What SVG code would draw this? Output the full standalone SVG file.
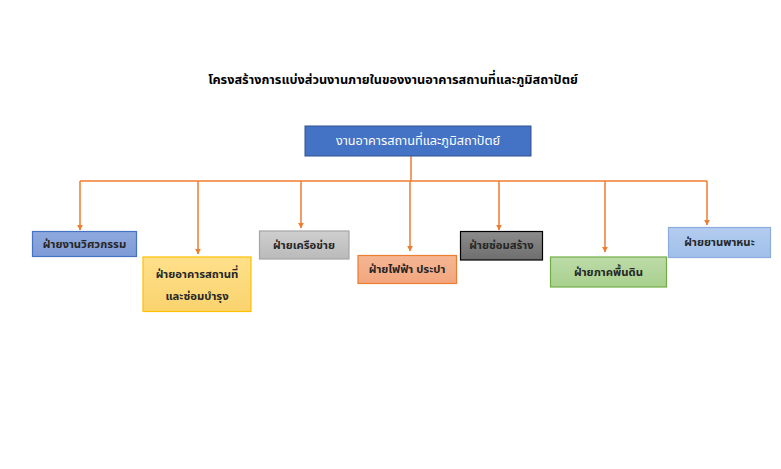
<svg xmlns="http://www.w3.org/2000/svg" width="781" height="469" viewBox="0 0 781 469">
<style>
text{font-family:"Noto Sans Thai","Leelawadee UI","Tahoma","Noto Sans","DejaVu Sans",sans-serif;text-anchor:middle;dominant-baseline:central}
.t{font-size:12.7px;font-weight:bold;fill:#000}
.n{font-size:11.3px;font-weight:bold;fill:#262626}
.top{font-size:12.7px;fill:#fff}
.c{fill:none;stroke:#ED7D31;stroke-width:1.5}
</style>
<defs>
<marker id="a" viewBox="0 0 10 10" refX="9" refY="5" markerWidth="4" markerHeight="4" orient="auto"><path d="M0,0L10,5L0,10z" fill="#ED7D31"/></marker>
<linearGradient id="gb" x1="0" y1="0" x2="0" y2="1"><stop offset="0" stop-color="#8FA9DE"/><stop offset="1" stop-color="#7F9BD6"/></linearGradient>
<linearGradient id="gy" x1="0" y1="0" x2="0" y2="1"><stop offset="0" stop-color="#FFE08A"/><stop offset="1" stop-color="#FAD36E"/></linearGradient>
<linearGradient id="gg" x1="0" y1="0" x2="0" y2="1"><stop offset="0" stop-color="#CFCFCF"/><stop offset="1" stop-color="#BABABA"/></linearGradient>
<linearGradient id="go" x1="0" y1="0" x2="0" y2="1"><stop offset="0" stop-color="#F5B694"/><stop offset="1" stop-color="#F2A67E"/></linearGradient>
<linearGradient id="gd" x1="0" y1="0" x2="0" y2="1"><stop offset="0" stop-color="#8C8C8C"/><stop offset="1" stop-color="#6E6E6E"/></linearGradient>
<linearGradient id="gn" x1="0" y1="0" x2="0" y2="1"><stop offset="0" stop-color="#BDDBA9"/><stop offset="1" stop-color="#A8D08D"/></linearGradient>
<linearGradient id="gl" x1="0" y1="0" x2="0" y2="1"><stop offset="0" stop-color="#B4CDF0"/><stop offset="1" stop-color="#A0BFEA"/></linearGradient>
</defs>
<rect width="781" height="469" fill="#fff"/>
<text class="t" x="393" y="80">โครงสร้างการแบ่งส่วนงานภายในของงานอาคารสถานที่และภูมิสถาปัตย์</text>
<g id="connectors">
<path class="c" d="M411,156V181"/>
<path class="c" d="M80,181H707"/>
<path class="c" d="M80,181V230" marker-end="url(#a)"/>
<path class="c" d="M198,181V254" marker-end="url(#a)"/>
<path class="c" d="M301,181V228" marker-end="url(#a)"/>
<path class="c" d="M410,181V251" marker-end="url(#a)"/>
<path class="c" d="M499,181V230" marker-end="url(#a)"/>
<path class="c" d="M605,181V252" marker-end="url(#a)"/>
<path class="c" d="M707,181V225" marker-end="url(#a)"/>
</g>
<g id="root"><rect x="305" y="126" width="226" height="30" fill="#4472C4" stroke="#2F528F" stroke-width="1"/><text class="top" x="418" y="141">งานอาคารสถานที่และภูมิสถาปัตย์</text></g>
<g id="eng"><rect x="32.5" y="231.5" width="104" height="25" fill="url(#gb)" stroke="#4472C4" stroke-width="1.2"/><text class="n" x="84.5" y="244">ฝ่ายงานวิศวกรรม</text></g>
<g id="bldg"><rect x="143" y="257" width="108" height="54.5" fill="url(#gy)" stroke="#FFC000" stroke-width="1.2"/><text class="n" x="197" y="274">ฝ่ายอาคารสถานที่</text><text class="n" x="197" y="296">และซ่อมบำรุง</text></g>
<g id="net"><rect x="259.5" y="231" width="89.5" height="28" fill="url(#gg)" stroke="#A5A5A5" stroke-width="1.2"/><text class="n" x="304" y="245">ฝ่ายเครือข่าย</text></g>
<g id="elec"><rect x="358" y="255.5" width="98.5" height="28" fill="url(#go)" stroke="#ED7D31" stroke-width="1.2"/><text class="n" x="407" y="269.5">ฝ่ายไฟฟ้า ประปา</text></g>
<g id="repair"><rect x="460.5" y="231.5" width="82" height="28.5" fill="url(#gd)" stroke="#000" stroke-width="1.2"/><text class="n" x="501.5" y="245.5" fill="#1a1a1a">ฝ่ายซ่อมสร้าง</text></g>
<g id="ground"><rect x="550.5" y="257" width="116" height="30" fill="url(#gn)" stroke="#70AD47" stroke-width="1.2"/><text class="n" x="608.5" y="272">ฝ่ายภาคพื้นดิน</text></g>
<g id="vehicle"><rect x="668.5" y="227.5" width="102" height="30" fill="url(#gl)" stroke="#8FAADC" stroke-width="1.2"/><text class="n" x="719.5" y="242.5">ฝ่ายยานพาหนะ</text></g>
</svg>
